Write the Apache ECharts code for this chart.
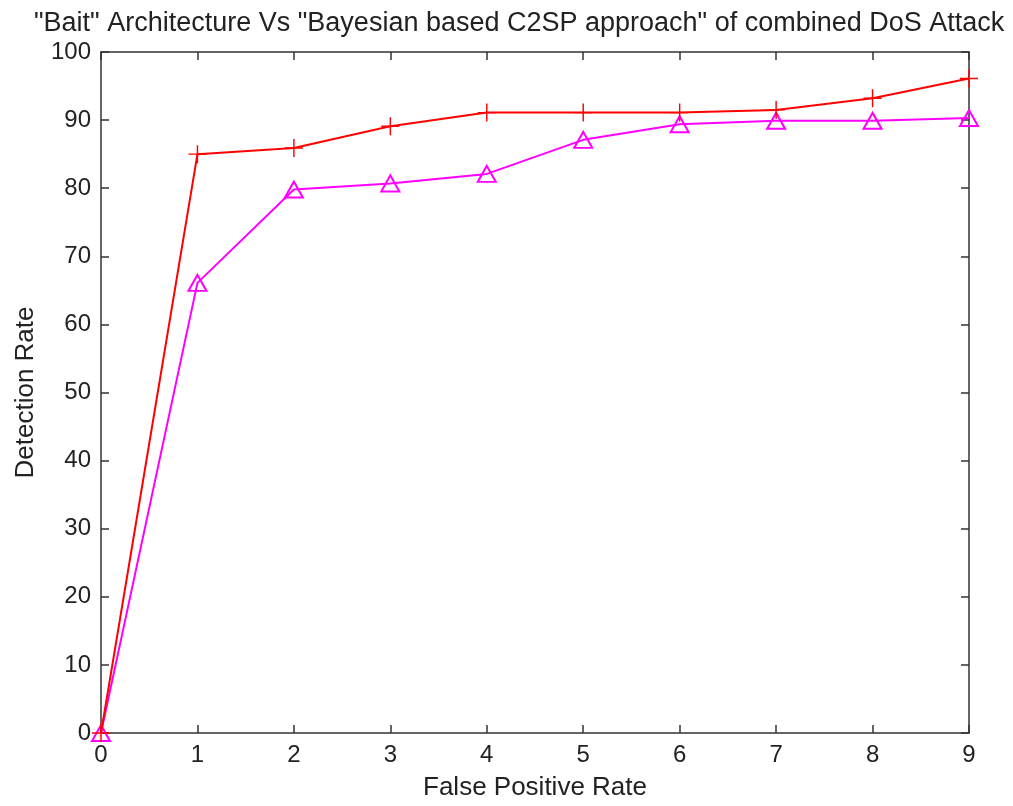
<!DOCTYPE html>
<html>
<head>
<meta charset="utf-8">
<script src="https://cdn.jsdelivr.net/npm/echarts@6/dist/echarts.min.js"></script>
<style>html,body{margin:0;padding:0;background:#fff}#c{width:1013px;height:806px}</style>
</head>
<body>
<div id="c"></div>
<script>
var titleText = '"Bait" Architecture Vs "Bayesian based C2SP approach" of combined DoS Attack';
var xName = 'False Positive Rate';
var yName = 'Detection Rate';
var xValues = [0, 1, 2, 3, 4, 5, 6, 7, 8, 9];
var baitValues = [0, 85.0, 85.9, 89.1, 91.1, 91.1, 91.1, 91.5, 93.2, 96.1];
var c2spValues = [0, 66.1, 79.8, 80.7, 82.1, 87.1, 89.4, 89.9, 89.9, 90.3];

function pairs(xs, ys) { return xs.map(function (x, i) { return [x, ys[i]]; }); }

var font = 'Liberation Sans, Arial, sans-serif';
var txt = '#222';
var axisLine = { show: true, onZero: false, lineStyle: { color: '#333', width: 1.5 } };
var tick = { show: true, inside: true, length: 8, lineStyle: { color: '#333', width: 1.5 } };

var chart = echarts.init(document.getElementById('c'), null, { renderer: 'canvas' });
chart.setOption({
  animation: false,
  backgroundColor: '#fff',
  title: {
    text: titleText, left: 29, top: 5,
    textStyle: { fontFamily: font, fontSize: 27, fontWeight: 'normal', color: txt }
  },
  grid: { left: 101, right: 44, top: 52, bottom: 70, containLabel: false },
  xAxis: [{
    type: 'value', min: 0, max: 9, interval: 1, position: 'bottom',
    name: xName, nameLocation: 'middle', nameGap: 42,
    nameTextStyle: { fontFamily: font, fontSize: 26, color: txt },
    axisLine: axisLine, axisTick: tick, splitLine: { show: false },
    axisLabel: { fontFamily: font, fontSize: 24, color: txt, margin: 10 }
  }, {
    type: 'value', min: 0, max: 9, interval: 1, position: 'top',
    axisLine: axisLine, axisTick: tick, splitLine: { show: false },
    axisLabel: { show: false }
  }],
  yAxis: [{
    type: 'value', min: 0, max: 100, interval: 10, position: 'left',
    name: yName, nameLocation: 'middle', nameGap: 62,
    nameTextStyle: { fontFamily: font, fontSize: 26, color: txt },
    axisLine: axisLine, axisTick: tick, splitLine: { show: false },
    axisLabel: { fontFamily: font, fontSize: 24, color: txt, margin: 10 }
  }, {
    type: 'value', min: 0, max: 100, interval: 10, position: 'right',
    axisLine: axisLine, axisTick: tick, splitLine: { show: false },
    axisLabel: { show: false }
  }],
  series: [{
    name: 'Bait', type: 'line', data: pairs(xValues, baitValues),
    xAxisIndex: 0, yAxisIndex: 0,
    symbol: 'path://M9.2,0h1.6v20h-1.6zM0,9.2h20v1.6h-20z', symbolSize: 18,
    lineStyle: { color: '#ff0000', width: 2 },
    itemStyle: { color: '#ff0000' }, z: 3
  }, {
    name: 'C2SP', type: 'line', data: pairs(xValues, c2spValues),
    xAxisIndex: 0, yAxisIndex: 0,
    symbol: 'triangle', symbolSize: [18, 16],
    lineStyle: { color: '#ff00ff', width: 2 },
    itemStyle: { color: 'rgba(255,255,255,0)', borderColor: '#ff00ff', borderWidth: 2 }, z: 2
  }]
});
</script>
</body>
</html>
